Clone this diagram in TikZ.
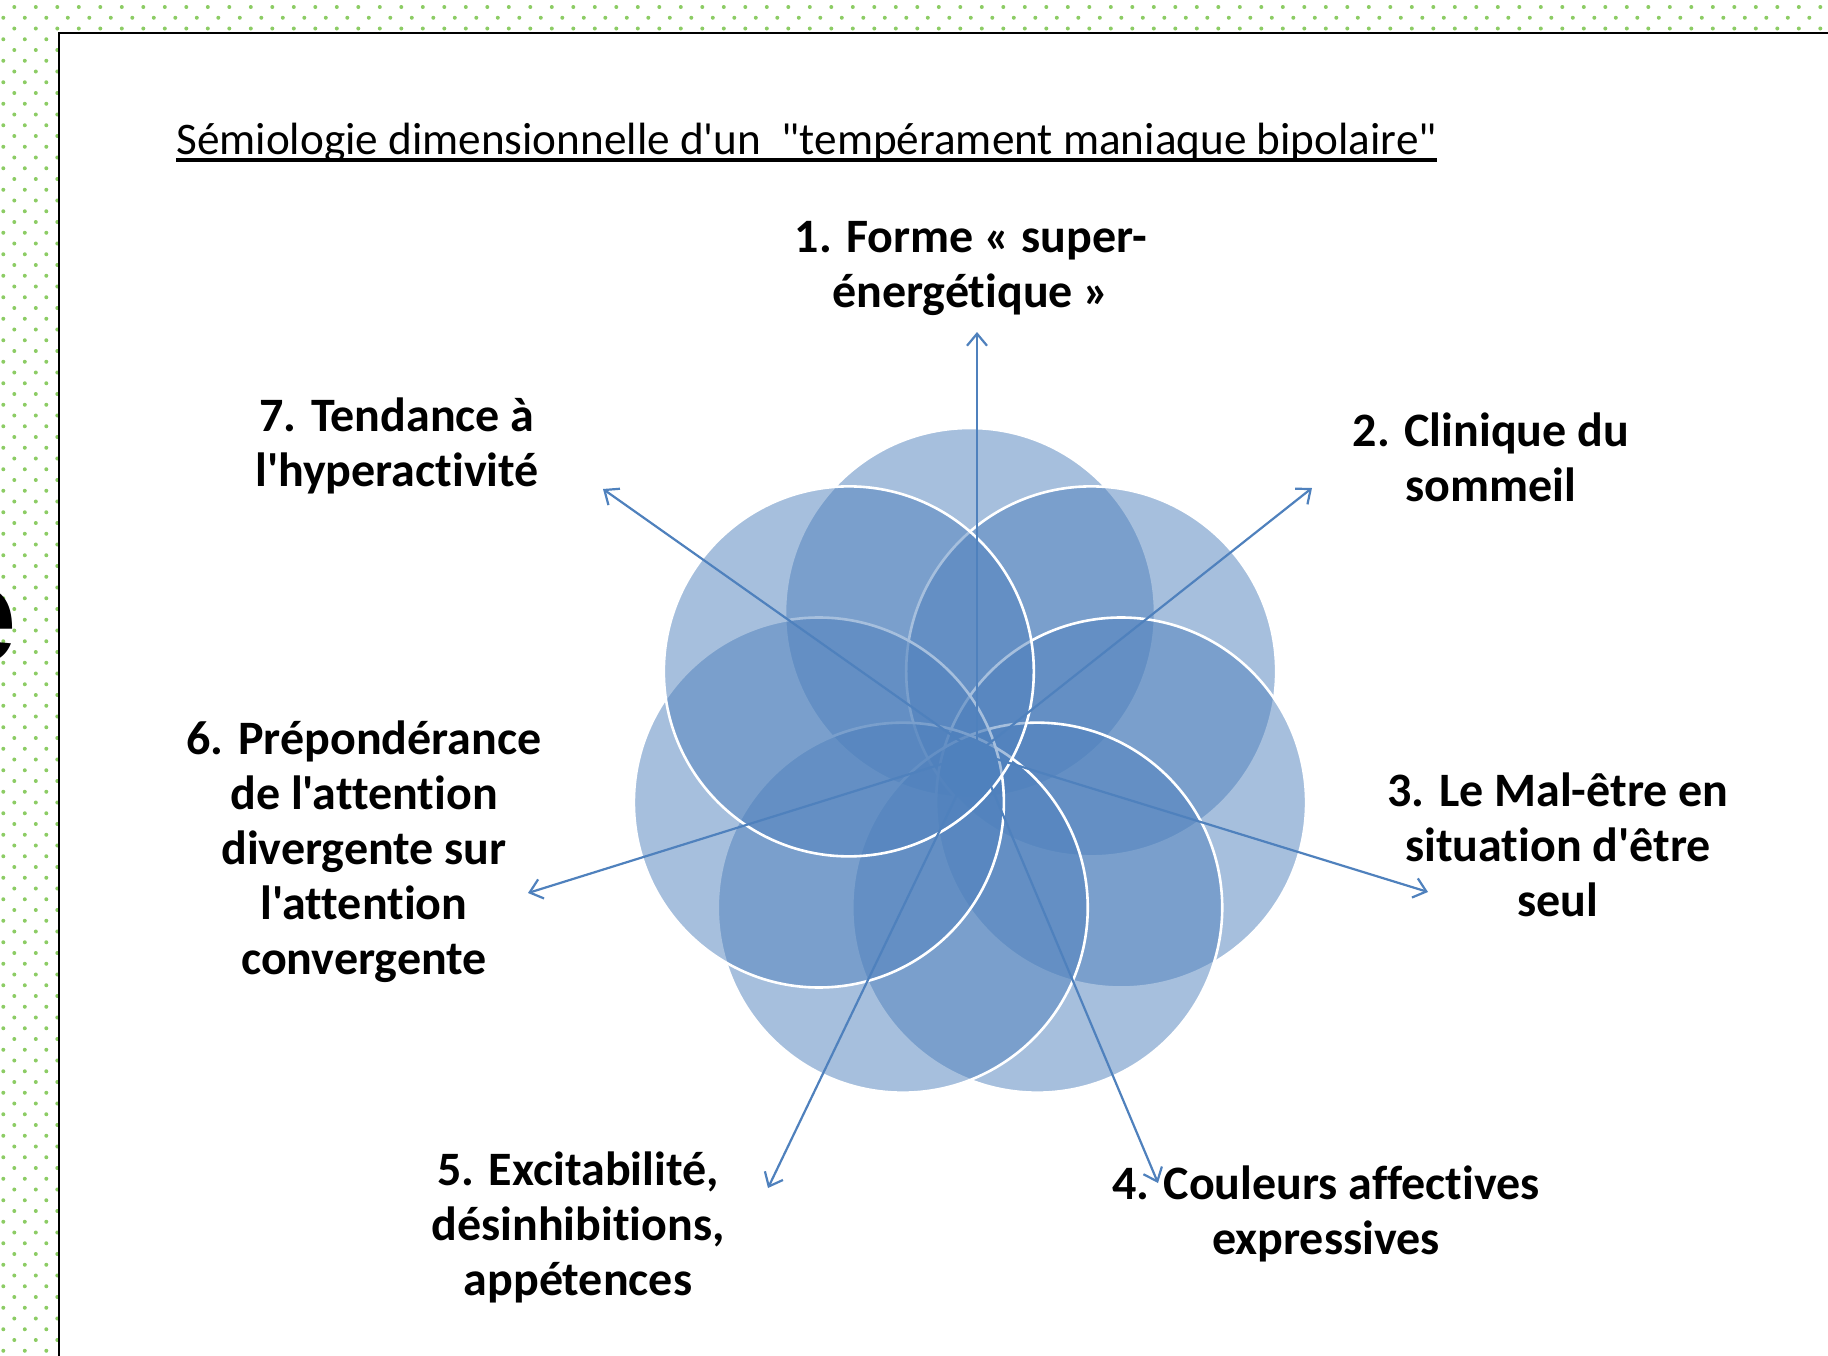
\documentclass[tikz,border=0pt]{standalone}
\usepackage{fontspec}
\setmainfont{Carlito}
\newfontfamily\labfont{Carlito}[Ligatures=CommonOff]
\newfontfamily\bgsans{Liberation Sans}
\usetikzlibrary{arrows.meta}
\definecolor{ofblue}{RGB}{79,129,189}
\definecolor{dotc}{RGB}{140,204,100}
\tikzset{
  petal/.style={fill=ofblue, fill opacity=0.5, draw=white, draw opacity=1, line width=1.3pt},
  ray/.style={draw=ofblue, line width=1.1pt, -{Straight Barb[length=6pt,width=10pt]}},
  lab/.style={anchor=base, inner sep=0pt, font=\labfont\bfseries\fontsize{24}{27.5}\selectfont},
  ttl/.style={anchor=base west, inner sep=0pt, font=\labfont\fontsize{22.6}{27}\selectfont},
  dotmark/.style={fill=dotc},
  frame/.style={draw=black, line width=1pt, fill=white}
}
\begin{document}
\begin{tikzpicture}[x=0.5pt, y=-0.5pt]
\useasboundingbox (0,0) rectangle (1828,1356);
\begin{scope}
\clip (0,0) rectangle (1828,1356);
% dotted background
\foreach \j in {0,...,125}{
  \pgfmathsetmacro{\yy}{7+10.75*\j}
  \pgfmathsetmacro{\xo}{mod(\j,2)==0 ? 14.3 : 3.3}
  \pgfmathtruncatemacro{\imax}{\j<3 ? 85 : 2}
  \foreach \i in {0,...,\imax}{
    \fill[dotmark] ({\xo+21.5*\i},\yy) circle[radius=1pt];
  }
}
% partial letter of the slide behind
\node[anchor=base east, inner sep=0pt, font=\bgsans\bfseries\fontsize{70}{70}\selectfont] (bge) at (18,662) {e};
% white frame
\draw[frame] (59,33) rectangle (1900,1420);
\end{scope}

% title
\node[ttl] (title) at (176,154) {Sémiologie dimensionnelle d'un\ \ "tempérament maniaque bipolaire"};
\draw[line width=2pt] ([yshift=-3pt]title.base west) -- ([yshift=-3pt]title.base east);

% petals
\foreach \k in {0,...,6}{
  \pgfmathsetmacro{\t}{90-\k*360/7}
  \path[petal] ({970+155*cos(\t)},{768-155*sin(\t)}) circle[radius=92.5pt];
}

% rays
\coordinate (c) at (977,753);
\coordinate (t1) at (977,332);
\coordinate (t2) at (1312,488);
\coordinate (t3) at (1428,892);
\coordinate (t4) at (1158,1183);
\coordinate (t5) at (768,1188);
\coordinate (t6) at (528,893);
\coordinate (t7) at (603,489);
\foreach \n in {1,...,7}{
  \draw[ray] (c) -- (t\n);
}

% labels
\node[lab] (l1) at (971,252) {\begin{tabular}[t]{@{}c@{}}1. Forme « super-\\énergétique »\end{tabular}};
\node[lab] (l2) at (1491,446) {\begin{tabular}[t]{@{}c@{}}2. Clinique du\\sommeil\end{tabular}};
\node[lab] (l3) at (1558,806) {\begin{tabular}[t]{@{}c@{}}3. Le Mal-être en\\situation d'être\\seul\end{tabular}};
\node[lab] (l4) at (1326,1199) {\begin{tabular}[t]{@{}c@{}}4. Couleurs affectives\\expressives\end{tabular}};
\node[lab] (l5) at (578,1185) {\begin{tabular}[t]{@{}c@{}}5. Excitabilité,\\désinhibitions,\\appétences\end{tabular}};
\node[lab] (l6) at (364,754) {\begin{tabular}[t]{@{}c@{}}6. Prépondérance\\de l'attention\\divergente sur\\l'attention\\convergente\end{tabular}};
\node[lab] (l7) at (397,431) {\begin{tabular}[t]{@{}c@{}}7. Tendance à\\l'hyperactivité\end{tabular}};
\end{tikzpicture}
\end{document}
